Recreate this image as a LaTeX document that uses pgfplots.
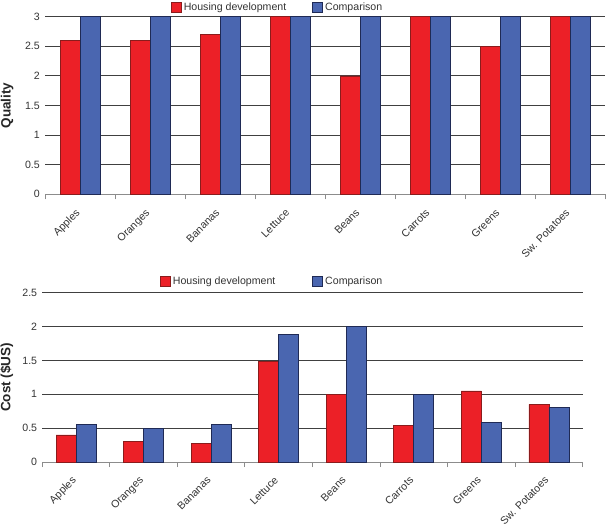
\documentclass[border=0pt]{standalone}
\usepackage{pgfplots}
\pgfplotsset{compat=1.18}
\usepackage{fontspec}
\setmainfont{Liberation Sans}
\definecolor{redfill}{HTML}{EC2027}
\definecolor{redline}{HTML}{8A1C1C}
\definecolor{bluefill}{HTML}{4A66B0}
\definecolor{blueline}{HTML}{1F2A55}
\pgfplotsset{
  common/.style={
    scale only axis, ybar=0pt, bar width=20bp,
    xmin=-0.5, xmax=7.5, ymin=0,
    axis x line*=bottom, axis y line*=left,
    y axis line style={draw=none},
    x axis line style={draw=black!45, line width=1bp, -},
    xtick={0,...,7},
    xticklabels={Apples,Oranges,Bananas,Lettuce,Beans,Carrots,Greens,Sw. Potatoes},
    minor xtick={-0.5,0.5,...,7.5},
    major tick length=0pt, minor tick length=5bp, tick align=outside,
    every minor x tick/.append style={draw=black!45, line width=1bp},
    ymajorgrids, grid style={black!75, line width=0.9bp},
    tick label style={font=\fontsize{10.6bp}{12bp}\selectfont, text=black!80},
    /pgf/number format/assume math mode=true,
    yticklabel style={inner sep=0pt, xshift=-5bp, anchor=east},
    ylabel style={font=\fontsize{13.5bp}{15bp}\selectfont\bfseries, text=black!85, anchor=south, inner sep=0pt, rotate=0},
    legend style={draw=none, fill=none, inner sep=0pt, outer sep=0pt, anchor=west,
      font=\fontsize{10.6bp}{12bp}\selectfont, text=black!80},
    legend columns=2,
    legend image code/.code={\draw[#1] (0bp,-5bp) rectangle (10bp,5bp);},
  },
  hd/.style={fill=redfill, draw=redline, line width=0.8bp},
  cp/.style={fill=bluefill, draw=blueline, line width=0.8bp},
}
\begin{document}
\begin{tikzpicture}
\useasboundingbox (0bp,0bp) rectangle (606bp,-526bp);
\begin{axis}[common,
  at={(45bp,-194.3bp)}, anchor=south west,
  width=560bp, height=177.6bp,
  ymax=3, ytick={0,0.5,...,3},
  xticklabel style={xshift=-5bp, yshift=-14bp, rotate=45, anchor=north east, inner sep=0pt},
  ylabel={Quality},
  ylabel style={at={(axis description cs:-0.05625,0.5)}},
  legend style={at={(axis description cs:0.225,1.0546)},
    /tikz/every even column/.append style={column sep=24bp}},
]
\addplot[hd] coordinates {(0,2.6) (1,2.6) (2,2.7) (3,3) (4,2.0) (5,3) (6,2.5) (7,3)};
\addplot[cp] coordinates {(0,3) (1,3) (2,3) (3,3) (4,3) (5,3) (6,3) (7,3)};
\legend{Housing development, Comparison}
\end{axis}
\begin{axis}[common,
  at={(42.3bp,-462bp)}, anchor=south west,
  width=540.4bp, height=169.3bp,
  ymax=2.5, ytick={0,0.5,...,2.5},
  xticklabel style={xshift=-5bp, yshift=-13.5bp, rotate=45, anchor=north east, inner sep=0pt},
  ylabel={Cost (\$US)},
  ylabel style={at={(axis description cs:-0.0533,0.5)}},
  legend style={at={(axis description cs:0.218,1.065)},
    /tikz/every even column/.append style={column sep=35bp}},
]
\addplot[hd] coordinates {(0,0.40) (1,0.31) (2,0.28) (3,1.49) (4,1.0) (5,0.54) (6,1.05) (7,0.85)};
\addplot[cp] coordinates {(0,0.55) (1,0.49) (2,0.55) (3,1.89) (4,2.0) (5,1.0) (6,0.59) (7,0.80)};
\legend{Housing development, Comparison}
\end{axis}
\end{tikzpicture}
\end{document}
